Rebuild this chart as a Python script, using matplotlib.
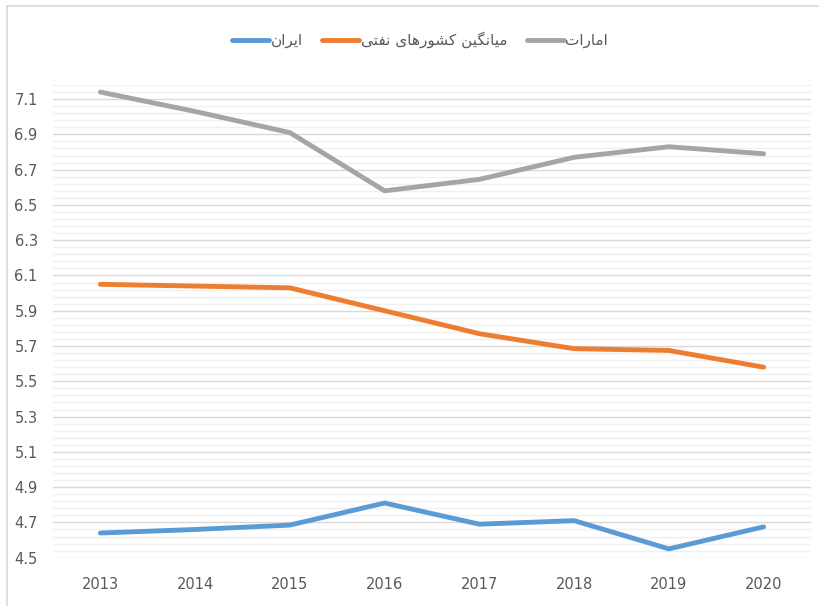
import matplotlib
matplotlib.use('Agg')
import matplotlib.pyplot as plt
from matplotlib.lines import Line2D
import numpy as np

# data
years = ['2013', '2014', '2015', '2016', '2017', '2018', '2019', '2020']
iran = [4.64, 4.66, 4.685, 4.81, 4.69, 4.71, 4.55, 4.675]
oil_avg = [6.05, 6.04, 6.03, 5.90, 5.77, 5.685, 5.675, 5.58]
uae = [7.14, 7.03, 6.91, 6.58, 6.645, 6.77, 6.83, 6.79]

# persian labels, written in presentation forms (visual order) since
# matplotlib does no arabic shaping
lbl_iran = '\uFEE5\uFE8D\uFEAE\uFBFE\uFE8D'                       # ایران
lbl_oil = ('\uFBFD\uFE98\uFED4\uFEE7 '
           '\uFBFC\uFE8E\uFEEB\uFEAD\uFEEE\uFEB8\uFB90 '
           '\uFEE6\uFBFF\uFB95\uFEE7\uFE8E\uFBFF\uFEE3')          # میانگین کشورهای نفتی
lbl_uae = '\uFE95\uFE8D\uFEAD\uFE8E\uFEE3\uFE8D'                  # امارات

col_iran = '#5b9bd5'
col_oil = '#ed7d31'
col_uae = '#a5a5a5'
txt_col = '#595959'

plt.rcParams['font.family'] = ['DejaVu Sans']

fig = plt.figure(figsize=(8.19, 6.06), dpi=100)
ax = fig.add_axes([53/819, (606-557.7)/606, (811-53)/819, (557.7-85)/606])

x = np.arange(len(years))
lw = 3.5
ax.plot(x, iran, color=col_iran, lw=lw, solid_capstyle='round', label=lbl_iran, zorder=3)
ax.plot(x, oil_avg, color=col_oil, lw=lw, solid_capstyle='round', label=lbl_oil, zorder=3)
ax.plot(x, uae, color=col_uae, lw=lw, solid_capstyle='round', label=lbl_uae, zorder=3)

ax.set_xlim(-0.5, len(years) - 0.5)
ax.set_ylim(4.5, 7.18)
ax.set_xticks(x)
ax.set_xticklabels(years)
yt = np.arange(4.5, 7.11, 0.2)
ax.set_yticks(yt)
ax.set_yticklabels(['%.1f' % v for v in yt])
ax.set_yticks(np.arange(4.5, 7.19, 0.04), minor=True)

ax.grid(True, which='minor', axis='y', color='#f0f0f0', lw=1.0, zorder=0)
ax.grid(True, which='major', axis='y', color='#d9d9d9', lw=1.0, zorder=1)
ax.set_axisbelow(True)

for s in ax.spines.values():
    s.set_visible(False)
ax.tick_params(axis='both', which='both', length=0, colors=txt_col, labelsize=10.5)
ax.tick_params(axis='x', pad=14)
ax.tick_params(axis='y', pad=11)

leg = fig.legend(loc='center', bbox_to_anchor=(0.513, 0.934), ncol=3, frameon=False,
                 fontsize=11, handlelength=2.4, columnspacing=1.3, handletextpad=0.1)
for t in leg.get_texts():
    t.set_color(txt_col)

# light border around the chart area
fig.add_artist(Line2D([7/819, 7/819], [0, 1 - 6/606], transform=fig.transFigure,
                      color='#d9d9d9', lw=1.2))
fig.add_artist(Line2D([7/819, 1], [1 - 6/606, 1 - 6/606], transform=fig.transFigure,
                      color='#d9d9d9', lw=1.2))

fig.savefig('out.png', dpi=100)
